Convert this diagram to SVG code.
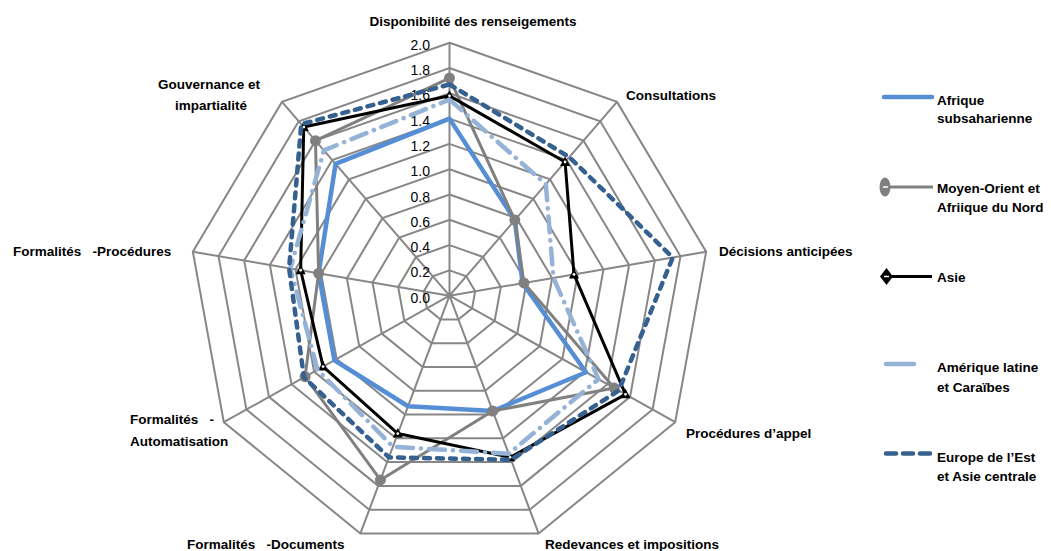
<svg xmlns="http://www.w3.org/2000/svg" width="1051" height="551" viewBox="0 0 1051 551">
<style>
.grid{fill:none;stroke:#878787;stroke-width:2}
.lbl{font-family:"Liberation Sans",Arial,sans-serif;font-weight:bold;font-size:13.5px;fill:#000;white-space:pre}
.val{font-family:"Liberation Sans",Arial,sans-serif;font-size:14px;fill:#000;text-anchor:end}
.s{fill:none;stroke-linejoin:round}
.afr{stroke:#558ED5;stroke-width:4.5}
.moy{stroke:#808080;stroke-width:3}
.asi{stroke:#000;stroke-width:3}
.ame{stroke:#95B3D7;stroke-width:4.5;stroke-linecap:round;stroke-dasharray:16 8 0.1 8}
.eur{stroke:#35608F;stroke-width:4.5;stroke-linecap:round;stroke-dasharray:6 7}
</style>
<defs>
<circle id="mc" r="5.5" fill="#808080"/>
<g id="mt"><path d="M0,-5.5 L5,4 L-5,4 Z" fill="#000"/><circle r="1.4" fill="#fff"/></g>
</defs>
<rect width="1051" height="551" fill="#fff"/>
<g id="grid">
<polygon class="grid" points="449.5,270.4 466.25,276.32 475.16,291.31 472.07,308.35 458.41,319.47 440.59,319.47 426.93,308.35 423.84,291.31 432.75,276.32"/>
<polygon class="grid" points="449.5,245.1 483.0,256.94 500.83,286.92 494.64,321.0 467.32,343.25 431.68,343.25 404.36,321.0 398.17,286.92 416.0,256.94"/>
<polygon class="grid" points="449.5,219.8 499.76,237.56 526.49,282.52 517.2,333.65 476.24,367.02 422.76,367.02 381.8,333.65 372.51,282.52 399.24,237.56"/>
<polygon class="grid" points="449.5,194.5 516.51,218.18 552.16,278.13 539.77,346.3 485.15,390.8 413.85,390.8 359.23,346.3 346.84,278.13 382.49,218.18"/>
<polygon class="grid" points="449.5,169.2 533.26,198.8 577.82,273.74 562.34,358.95 494.06,414.57 404.94,414.57 336.66,358.95 321.18,273.74 365.74,198.8"/>
<polygon class="grid" points="449.5,143.9 550.01,179.42 603.48,269.35 584.91,371.6 502.97,438.34 396.03,438.34 314.09,371.6 295.52,269.35 348.99,179.42"/>
<polygon class="grid" points="449.5,118.6 566.76,160.04 629.15,264.96 607.48,384.25 511.88,462.12 387.12,462.12 291.52,384.25 269.85,264.96 332.24,160.04"/>
<polygon class="grid" points="449.5,93.3 583.52,140.66 654.81,260.56 630.04,396.9 520.8,485.89 378.2,485.89 268.96,396.9 244.19,260.56 315.48,140.66"/>
<polygon class="grid" points="449.5,68.0 600.27,121.28 680.48,256.17 652.61,409.55 529.71,509.67 369.29,509.67 246.39,409.55 218.52,256.17 298.73,121.28"/>
<polygon class="grid" points="449.5,42.7 617.02,101.9 706.14,251.78 675.18,422.2 538.62,533.44 360.38,533.44 223.82,422.2 192.86,251.78 281.98,101.9"/>
<path class="grid" d="M449.5,295.7L449.5,42.7M449.5,295.7L617.02,101.9M449.5,295.7L706.14,251.78M449.5,295.7L675.18,422.2M449.5,295.7L538.62,533.44M449.5,295.7L360.38,533.44M449.5,295.7L223.82,422.2M449.5,295.7L192.86,251.78M449.5,295.7L281.98,101.9"/>
</g>
<g id="values">
<text class="val" x="430" y="302.7">0.0</text>
<text class="val" x="430" y="277.4">0.2</text>
<text class="val" x="430" y="252.1">0.4</text>
<text class="val" x="430" y="226.8">0.6</text>
<text class="val" x="430" y="201.5">0.8</text>
<text class="val" x="430" y="176.2">1.0</text>
<text class="val" x="430" y="150.9">1.2</text>
<text class="val" x="430" y="125.6">1.4</text>
<text class="val" x="430" y="100.3">1.6</text>
<text class="val" x="430" y="75.0">1.8</text>
<text class="val" x="430" y="49.7">2.0</text>
</g>
<g id="axis-labels">
<text class="lbl" x="473" y="26" text-anchor="middle">Disponibilité des renseigements</text>
<text class="lbl" x="626" y="100">Consultations</text>
<text class="lbl" x="719" y="256">Décisions anticipées</text>
<text class="lbl" x="686" y="438">Procédures d’appel</text>
<text class="lbl" x="545" y="549">Redevances et impositions</text>
<text class="lbl" x="187" y="549" xml:space="preserve">Formalités   -Documents</text>
<text class="lbl" x="130" y="424" xml:space="preserve">Formalités   -</text>
<text class="lbl" x="130" y="446">Automatisation</text>
<text class="lbl" x="13" y="256" xml:space="preserve">Formalités   -Procédures</text>
<text class="lbl" x="209" y="89" text-anchor="middle">Gouvernance et</text>
<text class="lbl" x="211" y="110" text-anchor="middle">impartialité</text>
</g>
<g id="connectors">
<g id="afrique">
<polygon class="s afr" points="449.5,118.6 514.83,220.12 522.6,283.2 586.04,372.23 492.72,411.0 408.06,406.25 334.4,360.22 318.61,273.3 335.59,163.92"/>
</g>
<g id="moyen-orient">
<polygon class="s moy" points="449.5,78.12 514.83,220.12 523.93,282.96 614.25,388.05 492.72,411.0 380.43,479.95 305.06,376.66 318.61,273.3 315.48,140.66"/>
<use href="#mc" x="449.5" y="78.12"/><use href="#mc" x="514.83" y="220.12"/><use href="#mc" x="523.93" y="282.96"/><use href="#mc" x="614.25" y="388.05"/><use href="#mc" x="492.72" y="411.0"/><use href="#mc" x="380.43" y="479.95"/><use href="#mc" x="305.06" y="376.66"/><use href="#mc" x="318.61" y="273.3"/><use href="#mc" x="315.48" y="140.66"/>
</g>
<g id="asie">
<polygon class="s asi" points="449.5,95.83 565.09,161.98 573.97,274.4 625.53,394.37 510.1,457.36 397.81,433.59 323.12,366.54 300.65,270.23 303.76,127.09"/>
<use href="#mt" x="449.5" y="95.83"/><use href="#mt" x="565.09" y="161.98"/><use href="#mt" x="573.97" y="274.4"/><use href="#mt" x="625.53" y="394.37"/><use href="#mt" x="510.1" y="457.36"/><use href="#mt" x="397.81" y="433.59"/><use href="#mt" x="323.12" y="366.54"/><use href="#mt" x="300.65" y="270.23"/><use href="#mt" x="303.76" y="127.09"/>
</g>
<g id="amerique">
<polygon class="s ame" points="449.5,99.62 545.82,184.26 553.44,277.91 598.45,379.19 508.76,453.8 392.91,446.66 317.48,369.7 290.38,268.47 323.86,150.35"/>
</g>
<g id="europe">
<polygon class="s eur" points="449.5,84.44 569.28,157.13 672.78,257.49 618.76,390.58 510.99,459.74 388.9,457.36 303.94,377.29 289.1,268.25 301.24,124.19"/>
</g>
</g>
<g id="legend">
<g id="leg-afrique">
<line x1="884" y1="97" x2="932" y2="97" stroke="#558ED5" stroke-width="4.5" stroke-linecap="round"/>
<text class="lbl" x="937" y="105">Afrique</text>
<text class="lbl" x="937" y="123">subsaharienne</text>
</g>
<g id="leg-moyen">
<line x1="885" y1="187" x2="933" y2="187" stroke="#808080" stroke-width="3"/>
<ellipse cx="885" cy="187" rx="5.5" ry="9.5" fill="#808080"/>
<line x1="883" y1="187" x2="888" y2="187" stroke="#fff" stroke-width="1.5"/>
<text class="lbl" x="937" y="193">Moyen-Orient et</text>
<text class="lbl" x="937" y="211.5">Afriique du Nord</text>
</g>
<g id="leg-asie">
<line x1="883" y1="276.5" x2="932" y2="276.5" stroke="#000" stroke-width="3"/>
<path d="M886.5,268 L893,276.5 L886.5,285 L880,276.5 Z" fill="#000"/>
<line x1="884" y1="276.5" x2="889" y2="276.5" stroke="#fff" stroke-width="1.5"/>
<text class="lbl" x="937" y="282">Asie</text>
</g>
<g id="leg-amerique">
<line x1="886" y1="364" x2="914" y2="364" stroke="#95B3D7" stroke-width="4.5" stroke-linecap="round"/>
<text class="lbl" x="937" y="372">Amérique latine</text>
<text class="lbl" x="937" y="391.5">et Caraïbes</text>
</g>
<g id="leg-europe">
<line x1="886" y1="453.5" x2="930" y2="453.5" stroke="#35608F" stroke-width="4.5" stroke-linecap="round" stroke-dasharray="10 7"/>
<text class="lbl" x="937" y="461.5">Europe de l’Est</text>
<text class="lbl" x="937" y="481">et Asie centrale</text>
</g>
</g>
</svg>
